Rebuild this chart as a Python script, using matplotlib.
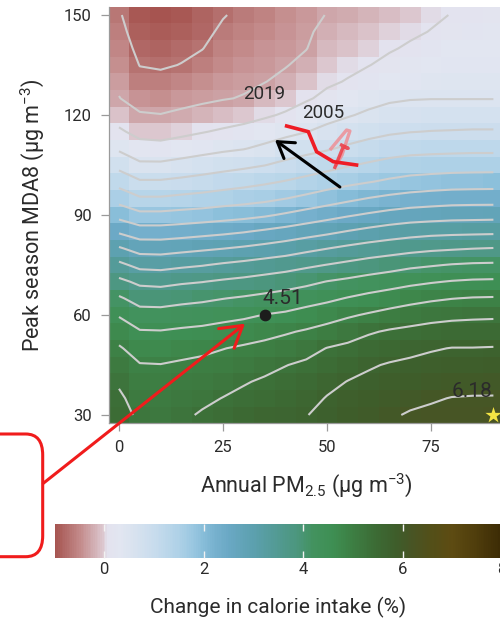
import numpy as np
import matplotlib
matplotlib.use("Agg")
import matplotlib.pyplot as plt
from matplotlib.colors import LinearSegmentedColormap, Normalize
from matplotlib.cm import ScalarMappable
from matplotlib.patches import FancyBboxPatch

plt.rcParams["font.family"] = ["Roboto", "DejaVu Sans"]
plt.rcParams["mathtext.fontset"] = "custom"
plt.rcParams["mathtext.rm"] = "Roboto"
plt.rcParams["mathtext.it"] = "Roboto:italic"
plt.rcParams["mathtext.bf"] = "Roboto:bold"

# ---- data -------------------------------------------------------------
pm25 = [0, 5, 10, 15, 20, 25, 30, 35, 40, 45, 50, 55, 60, 65, 70, 75, 80, 85, 90]
mda8 = [30, 35, 40, 45, 50, 55, 60, 65, 70, 75, 80, 85, 90, 95, 100,
        105, 110, 115, 120, 125, 130, 135, 140, 145, 150]

# change in calorie intake (%), one row per MDA8 level (30 -> 150)
calorie_change = [
    [5.46, 5.22, 5.15, 5.23, 5.34, 5.42, 5.51, 5.58, 5.63, 5.69, 5.78, 5.88, 5.96, 6.06, 6.13, 6.16, 6.17, 6.17, 6.18],
    [5.38, 5.11, 5.08, 5.15, 5.22, 5.31, 5.39, 5.46, 5.52, 5.58, 5.72, 5.80, 5.88, 5.96, 6.02, 6.07, 6.11, 6.12, 6.12],
    [5.24, 5.02, 5.00, 5.05, 5.10, 5.17, 5.27, 5.35, 5.41, 5.47, 5.60, 5.71, 5.78, 5.84, 5.89, 5.94, 5.98, 5.99, 6.00],
    [5.09, 4.92, 4.91, 4.95, 4.98, 5.04, 5.11, 5.19, 5.29, 5.36, 5.45, 5.55, 5.66, 5.73, 5.77, 5.81, 5.84, 5.85, 5.86],
    [4.94, 4.74, 4.72, 4.78, 4.83, 4.89, 4.95, 5.01, 5.08, 5.18, 5.31, 5.38, 5.47, 5.54, 5.61, 5.67, 5.71, 5.71, 5.72],
    [4.72, 4.53, 4.52, 4.56, 4.59, 4.65, 4.71, 4.78, 4.86, 4.94, 5.04, 5.14, 5.26, 5.34, 5.39, 5.44, 5.47, 5.48, 5.49],
    [4.47, 4.25, 4.24, 4.29, 4.33, 4.38, 4.43, 4.51, 4.56, 4.65, 4.74, 4.85, 4.94, 5.03, 5.11, 5.17, 5.21, 5.23, 5.24],
    [4.15, 3.95, 3.94, 3.99, 4.03, 4.09, 4.14, 4.20, 4.26, 4.34, 4.42, 4.52, 4.61, 4.69, 4.77, 4.84, 4.89, 4.92, 4.93],
    [3.79, 3.62, 3.59, 3.65, 3.69, 3.75, 3.80, 3.86, 3.93, 4.01, 4.11, 4.18, 4.26, 4.33, 4.41, 4.47, 4.52, 4.55, 4.56],
    [3.39, 3.19, 3.17, 3.23, 3.28, 3.35, 3.41, 3.48, 3.54, 3.63, 3.71, 3.79, 3.87, 3.94, 4.02, 4.07, 4.12, 4.15, 4.16],
    [2.94, 2.75, 2.74, 2.79, 2.84, 2.89, 2.95, 3.02, 3.10, 3.20, 3.29, 3.38, 3.46, 3.52, 3.58, 3.63, 3.66, 3.69, 3.71],
    [2.45, 2.28, 2.28, 2.32, 2.37, 2.42, 2.48, 2.56, 2.64, 2.73, 2.82, 2.92, 3.01, 3.09, 3.15, 3.19, 3.21, 3.22, 3.23],
    [1.97, 1.80, 1.80, 1.84, 1.88, 1.93, 1.98, 2.05, 2.15, 2.26, 2.36, 2.46, 2.55, 2.63, 2.69, 2.72, 2.75, 2.76, 2.77],
    [1.54, 1.34, 1.34, 1.39, 1.43, 1.49, 1.54, 1.60, 1.69, 1.79, 1.90, 2.01, 2.11, 2.19, 2.25, 2.29, 2.32, 2.33, 2.33],
    [1.15, 0.94, 0.94, 0.99, 1.05, 1.11, 1.17, 1.24, 1.32, 1.41, 1.51, 1.60, 1.68, 1.76, 1.83, 1.87, 1.90, 1.91, 1.92],
    [0.78, 0.57, 0.57, 0.63, 0.69, 0.76, 0.82, 0.89, 0.99, 1.08, 1.17, 1.27, 1.35, 1.43, 1.48, 1.50, 1.52, 1.53, 1.53],
    [0.44, 0.25, 0.23, 0.30, 0.37, 0.43, 0.48, 0.58, 0.69, 0.78, 0.86, 0.96, 1.05, 1.12, 1.17, 1.19, 1.20, 1.21, 1.21],
    [0.16, -0.02, -0.05, 0.01, 0.08, 0.15, 0.22, 0.30, 0.40, 0.49, 0.60, 0.70, 0.78, 0.85, 0.89, 0.91, 0.92, 0.93, 0.93],
    [-0.07, -0.27, -0.29, -0.24, -0.18, -0.10, -0.04, 0.05, 0.14, 0.27, 0.38, 0.47, 0.56, 0.63, 0.68, 0.70, 0.70, 0.71, 0.71],
    [-0.29, -0.43, -0.45, -0.40, -0.36, -0.32, -0.28, -0.15, -0.05, 0.06, 0.18, 0.30, 0.38, 0.45, 0.48, 0.49, 0.49, 0.49, 0.49],
    [-0.36, -0.58, -0.60, -0.54, -0.47, -0.40, -0.36, -0.31, -0.21, -0.08, 0.05, 0.12, 0.23, 0.31, 0.37, 0.40, 0.42, 0.43, 0.44],
    [-0.44, -0.71, -0.74, -0.69, -0.59, -0.48, -0.42, -0.37, -0.32, -0.21, -0.04, 0.03, 0.09, 0.18, 0.25, 0.30, 0.34, 0.36, 0.37],
    [-0.51, -0.80, -0.83, -0.77, -0.71, -0.56, -0.48, -0.43, -0.37, -0.31, -0.13, -0.06, 0.00, 0.07, 0.14, 0.21, 0.27, 0.29, 0.31],
    [-0.59, -0.88, -0.92, -0.86, -0.79, -0.64, -0.55, -0.49, -0.42, -0.35, -0.21, -0.15, -0.08, -0.01, 0.05, 0.11, 0.19, 0.22, 0.25],
    [-0.66, -0.95, -1.00, -0.93, -0.85, -0.72, -0.62, -0.55, -0.46, -0.38, -0.29, -0.23, -0.16, -0.09, -0.02, 0.05, 0.11, 0.15, 0.18],
]

contour_levels = [-0.7, -0.3, 0.1, 0.5, 0.9, 1.3, 1.7, 2.1, 2.5, 2.9,
                  3.3, 3.7, 4.1, 4.5, 4.9, 5.3, 5.7, 6.1]

# highlighted grid points
dot_pm, dot_o3, dot_value = 35, 60, 4.51
star_pm, star_o3, star_value = 90, 30, 6.18

# yearly trajectory (annual PM2.5, MDA8)
traj_early_pm = [50.7, 54.7, 55.5, 53.6, 52.0]
traj_early_o3 = [109.5, 115.5, 115.2, 108.0, 104.5]
traj_late_pm = [40.3, 45.5, 47.5, 51.5, 57.1]
traj_late_o3 = [116.7, 115.0, 109.0, 106.0, 105.0]
traj_cross_pm = [53.5, 55.1, 53.9, 51.9]
traj_cross_o3 = [111.0, 110.0, 110.5, 104.3]

year_labels = ["2019", "2005"]
year_label_pm = [34.9, 49.2]
year_label_o3 = [126.3, 120.7]

cbar_ticks = [0, 2, 4, 6, 8]
cbar_range = (-1, 8)
cmap_points = [(-1.0, "#a65450"), (-0.5, "#c38b8b"), (-0.05, "#dcc6ce"),
               (0.05, "#e3e2ee"), (0.3, "#e2e6f1"), (0.6, "#d8e2ef"),
               (1.0, "#c8dced"), (1.5, "#aed1e7"), (1.8, "#98c6e0"),
               (2.0, "#86bcd8"), (2.2, "#78b2cf"), (2.5, "#6aa8c4"),
               (3.0, "#5ca0ae"), (3.5, "#529a92"), (3.9, "#4b967c"),
               (4.2, "#43925f"), (4.6, "#3e8f53"), (5.0, "#3d7e43"),
               (5.5, "#3c6a34"), (5.9, "#3e5c2a"), (6.2, "#485424"),
               (6.6, "#534f18"), (7.0, "#5d4b12"), (7.5, "#4f3d0c"),
               (8.0, "#3c2b05")]

# ---- colour map -------------------------------------------------------
lo, hi = cbar_range
cmap = LinearSegmentedColormap.from_list(
    "calorie", [((v - lo) / (hi - lo), c) for v, c in cmap_points])
norm = Normalize(vmin=lo, vmax=hi)

TEXT = "#2b2b2b"
W, H = 500, 620
fig = plt.figure(figsize=(W / 100, H / 100), dpi=100)

ax = fig.add_axes([108.6 / W, 1 - 423.3 / H, 395.2 / W, 416.6 / H])
Z = np.array(calorie_change)
ax.pcolormesh(pm25, mda8, Z, cmap=cmap, norm=norm, shading="nearest")
ax.contour(pm25, mda8, Z, levels=contour_levels, colors="#cdcdcd",
           linewidths=1.5, negative_linestyles="solid")

ax.set_xlim(-2.5, 92.5)
ax.set_ylim(27.5, 152.5)
ax.set_xticks([0, 25, 50, 75])
ax.set_yticks([30, 60, 90, 120, 150])
for s in ("top", "right"):
    ax.spines[s].set_visible(False)
for s in ("left", "bottom"):
    ax.spines[s].set_color("#9a9a9a")
    ax.spines[s].set_linewidth(0.9)
ax.tick_params(axis="both", colors="#9a9a9a", labelcolor=TEXT,
               labelsize=12, length=5.5, width=0.9)
ax.tick_params(axis="x", pad=6.5)
ax.tick_params(axis="y", pad=6.5)
ax.set_xlabel(r"Annual PM$_{2.5}$ (μg m$^{-3}$)", fontsize=15.5, color=TEXT,
              labelpad=12)
ax.set_ylabel(r"Peak season MDA8 (μg m$^{-3}$)", fontsize=15.5, color=TEXT,
              labelpad=13)

# trajectory and annotations
ax.plot(traj_early_pm, traj_early_o3, color="#f08a90", lw=2.4, alpha=0.8,
        solid_capstyle="butt", zorder=4)
ax.plot(traj_cross_pm, traj_cross_o3, color="#ee3a44", lw=2.4, alpha=0.85,
        zorder=4)
ax.plot(traj_late_pm, traj_late_o3, color="#ee1c25", lw=2.6, zorder=5,
        solid_joinstyle="miter")
for t, x, y in zip(year_labels, year_label_pm, year_label_o3):
    ax.text(x, y, t, fontsize=13.5, color=TEXT, ha="center", va="center",
            zorder=6)

ax.annotate("", xy=(37.5, 112.5), xytext=(53.1, 98.4),
            arrowprops=dict(arrowstyle="->,head_length=0.55,head_width=0.35",
                            color="black", lw=2.2, mutation_scale=20,
                            shrinkA=0, shrinkB=0), zorder=6)

ax.scatter([dot_pm], [dot_o3], s=55, color="#1c1c1c", zorder=6)
ax.text(dot_pm - 0.5, dot_o3 + 2.2, f"{dot_value:.2f}", fontsize=15,
        color=TEXT, ha="left", va="bottom", zorder=6)
ax.scatter([star_pm], [star_o3], marker="*", s=150, color="#f3e544",
           zorder=6, clip_on=False, linewidths=0)
ax.text(star_pm - 0.3, star_o3 + 7, f"{star_value:.2f}", fontsize=15,
        color=TEXT, ha="right", va="center", zorder=6)

# red call-out box and pointer
box = FancyBboxPatch((-20 / W, 1 - 556.7 / H), 62.7 / W, 122.7 / H,
                     boxstyle="round,pad=0,rounding_size=0.034",
                     transform=fig.transFigure, fill=False,
                     ec="#f01c1c", lw=2.2, clip_on=False)
fig.patches.append(box)
ax.annotate("", xy=(30.3, 57.4), xycoords="data",
            xytext=(43.3 / W, 1 - 483.3 / H), textcoords="figure fraction",
            arrowprops=dict(arrowstyle="->,head_length=0.75,head_width=0.45",
                            color="#f01c1c", lw=2.2, mutation_scale=20,
                            shrinkA=0, shrinkB=0),
            annotation_clip=False, zorder=7)

# colour bar
cax = fig.add_axes([54.6 / W, 1 - 558 / H, 447.3 / W, 34 / H])
cb = fig.colorbar(ScalarMappable(norm=norm, cmap=cmap), cax=cax,
                  orientation="horizontal", ticks=cbar_ticks)
cb.outline.set_visible(False)
cax.tick_params(axis="x", direction="in", length=5, width=1,
                color="#f2f2f2", top=True, bottom=True, labelsize=12,
                labelcolor=TEXT, pad=3)
cb.set_label("Change in calorie intake (%)", fontsize=15, color=TEXT,
             labelpad=14)

fig.savefig("out.png", dpi=100)
